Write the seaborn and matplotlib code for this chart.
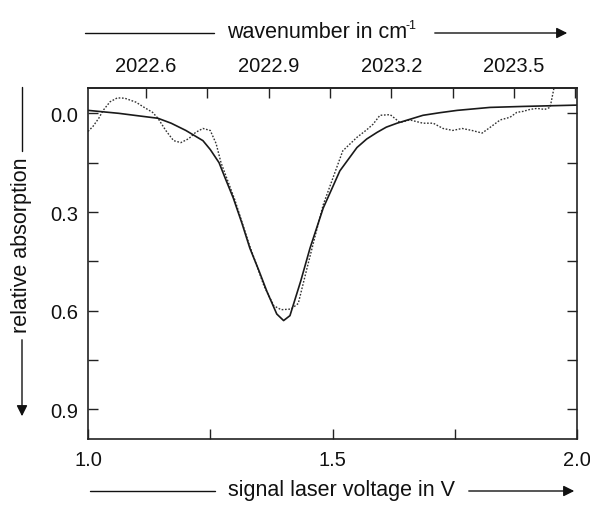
import numpy as np
import pandas as pd
import matplotlib
matplotlib.use("Agg")
import matplotlib.pyplot as plt
import seaborn as sns
from matplotlib.patches import FancyArrowPatch
from matplotlib.lines import Line2D
from matplotlib.ticker import MultipleLocator

# ---- data ----
fit_voltage = [1.000, 1.063, 1.100, 1.143, 1.170, 1.200, 1.235, 1.250, 1.268, 1.280,
               1.297, 1.315, 1.331, 1.350, 1.366, 1.386, 1.400, 1.413, 1.435, 1.454,
               1.481, 1.500, 1.515, 1.550, 1.570, 1.591, 1.610, 1.632, 1.685, 1.720,
               1.755, 1.822, 1.890, 2.000]
fit_absorption = [-0.009, 0.000, 0.007, 0.015, 0.030, 0.052, 0.083, 0.110, 0.150, 0.195,
                  0.257, 0.335, 0.410, 0.480, 0.542, 0.610, 0.630, 0.615, 0.510, 0.410,
                  0.288, 0.225, 0.175, 0.104, 0.078, 0.058, 0.042, 0.030, 0.006, -0.002,
                  -0.009, -0.018, -0.021, -0.025]

meas_voltage = [1.000, 1.010, 1.022, 1.031, 1.045, 1.060, 1.075, 1.098, 1.115, 1.132,
                1.143, 1.159, 1.175, 1.190, 1.206, 1.220, 1.235, 1.250, 1.262, 1.272,
                1.300, 1.330, 1.360, 1.380, 1.395, 1.415, 1.430, 1.448, 1.465, 1.481,
                1.501, 1.521, 1.550, 1.570, 1.583, 1.597, 1.618, 1.638, 1.658, 1.685,
                1.706, 1.726, 1.746, 1.765, 1.785, 1.806, 1.822, 1.843, 1.863, 1.877,
                1.890, 1.904, 1.918, 1.934, 1.945, 1.956]
meas_absorption = [0.055, 0.040, 0.015, -0.009, -0.035, -0.047, -0.046, -0.034, -0.018, -0.003,
                   0.015, 0.052, 0.083, 0.089, 0.077, 0.058, 0.046, 0.052, 0.092, 0.150,
                   0.262, 0.400, 0.525, 0.585, 0.597, 0.595, 0.578, 0.470, 0.370, 0.278,
                   0.196, 0.114, 0.073, 0.050, 0.033, 0.006, 0.004, 0.028, 0.020, 0.030,
                   0.030, 0.046, 0.052, 0.046, 0.052, 0.060, 0.043, 0.020, 0.012, -0.003,
                   -0.006, -0.012, -0.015, -0.012, -0.018, -0.100]

y_ticks = [0.0, 0.3, 0.6, 0.9]
x_ticks = [1.0, 1.5, 2.0]
wn_ticks = [2022.6, 2022.9, 2023.2, 2023.5]

# ---- styling ----
sns.set_theme(style="ticks")
plt.rcParams["font.family"] = ["Liberation Sans", "DejaVu Sans"]
plt.rcParams["mathtext.fontset"] = "custom"
plt.rcParams["mathtext.rm"] = "Liberation Sans"
plt.rcParams["mathtext.default"] = "regular"

fig = plt.figure(figsize=(5.90, 5.06), dpi=100)
ax = fig.add_axes([88/590, 1-440/506, (577-88)/590, (440-89)/506])

fit_df = pd.DataFrame({"v": fit_voltage, "a": fit_absorption})
meas_df = pd.DataFrame({"v": meas_voltage, "a": meas_absorption})

sns.lineplot(data=meas_df, x="v", y="a", ax=ax, color="#333333", lw=1.0,
             linestyle=(0, (1.2, 1.2)), sort=False)
sns.lineplot(data=fit_df, x="v", y="a", ax=ax, color="#1a1a1a", lw=1.2, sort=False)

ax.set_xlim(1.0, 2.0)
ax.set_ylim(0.99, -0.077)
ax.set_xlabel("")
ax.set_ylabel("")

ax.set_xticks(x_ticks)
ax.set_xticklabels([f"{t:.1f}" for t in x_ticks])
ax.xaxis.set_minor_locator(MultipleLocator(0.25))
ax.set_yticks(y_ticks)
ax.set_yticklabels([f"{t:.1f}" for t in y_ticks])
ax.yaxis.set_minor_locator(MultipleLocator(0.15))

ax.tick_params(axis="both", which="both", direction="in", color="#222222",
               width=1.0, right=True)
ax.tick_params(axis="both", which="major", length=7, labelsize=14.5, labelcolor="#111111")
ax.tick_params(axis="x", which="major", pad=8)
ax.tick_params(axis="y", which="major", pad=7)
ax.tick_params(axis="both", which="minor", length=7)
for s in ax.spines.values():
    s.set_linewidth(1.2)
    s.set_color("#222222")

# top wavenumber axis
def v2w(v):
    return 2022.6 + (np.asarray(v) - 1.1186) / 0.8363

def w2v(w):
    return 1.1186 + (np.asarray(w) - 2022.6) * 0.8363

sec = ax.secondary_xaxis("top", functions=(v2w, w2v))
sec.set_xticks(wn_ticks)
sec.set_xticklabels([f"{t:.1f}" for t in wn_ticks])
sec.xaxis.set_minor_locator(MultipleLocator(0.15))
sec.tick_params(axis="x", which="both", direction="in", length=7, width=1.0, color="#222222")
sec.tick_params(axis="x", which="major", labelsize=14.5, pad=9, labelcolor="#111111")
sec.spines["top"].set_linewidth(1.2)

# ---- axis titles with arrows (figure coords in pixels) ----
W, H = 590, 506
def fx(x):
    return x / W
def fy(y):
    return 1 - y / H

lab_kw = dict(fontsize=15.5, color="#111111")

# top
fig.text(fx(227), fy(33), "wavenumber in cm", ha="left", va="center", **lab_kw)
fig.text(fx(406), fy(26), "-1", ha="left", va="center", fontsize=9, color="#111111")
fig.add_artist(Line2D([fx(85), fx(214)], [fy(34), fy(34)], color="#111111", lw=1.0))
fig.add_artist(FancyArrowPatch((fx(432), fy(34)), (fx(570), fy(34)), transform=fig.transFigure,
                               arrowstyle="-|>", mutation_scale=16, lw=1.0, color="#111111"))
# bottom
fig.text(fx(342), fy(491), "signal laser voltage in V", ha="center", va="center", **lab_kw)
fig.add_artist(Line2D([fx(90), fx(215)], [fy(492), fy(492)], color="#111111", lw=1.0))
fig.add_artist(FancyArrowPatch((fx(466), fy(492)), (fx(577), fy(492)), transform=fig.transFigure,
                               arrowstyle="-|>", mutation_scale=16, lw=1.0, color="#111111"))
# left
fig.text(fx(22), fy(245), "relative absorption", ha="center", va="center", rotation=90, **lab_kw)
fig.add_artist(Line2D([fx(22), fx(22)], [fy(88), fy(152)], color="#111111", lw=1.0))
fig.add_artist(FancyArrowPatch((fx(22), fy(338)), (fx(22), fy(420)), transform=fig.transFigure,
                               arrowstyle="-|>", mutation_scale=16, lw=1.0, color="#111111"))

fig.savefig("out.png", dpi=100, facecolor="white")
